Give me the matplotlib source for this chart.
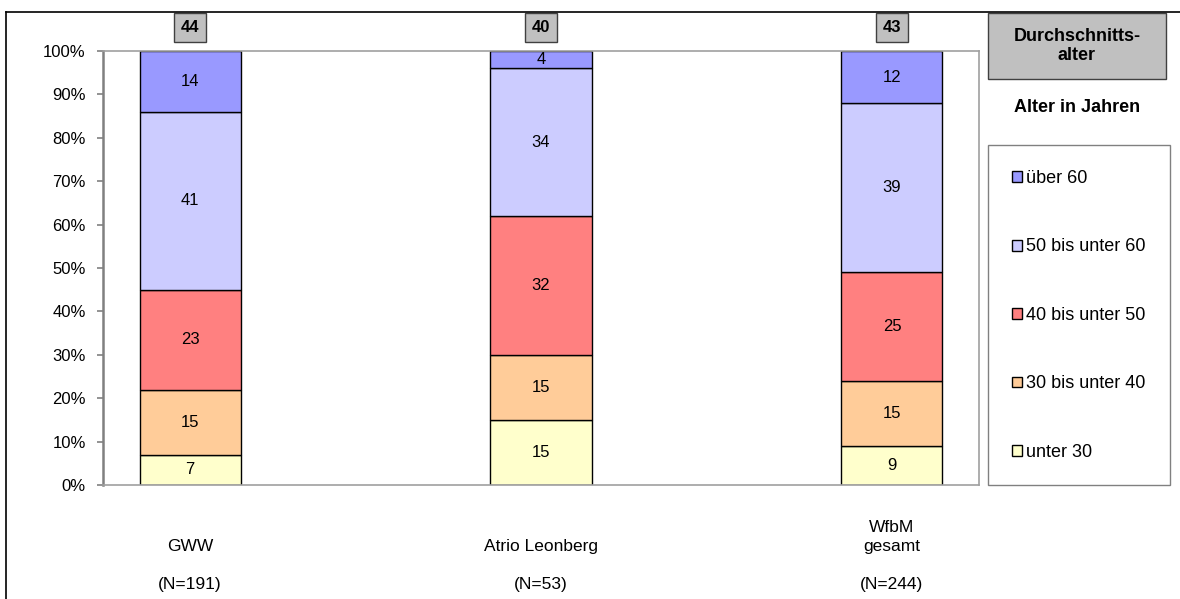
import matplotlib.pyplot as plt
from matplotlib.patches import Rectangle
from matplotlib.lines import Line2D
import matplotlib.transforms as mtransforms

plt.rcParams['font.family'] = ['Liberation Sans', 'DejaVu Sans']

# Daten
standorte = ["GWW", "Atrio Leonberg", "WfbM\ngesamt"]
n_werte = ["(N=191)", "(N=53)", "(N=244)"]
durchschnittsalter = [44, 40, 43]

altersgruppen = ["unter 30", "30 bis unter 40", "40 bis unter 50",
                 "50 bis unter 60", "über 60"]
anteile = {
    "unter 30":        [7, 15, 9],
    "30 bis unter 40": [15, 15, 15],
    "40 bis unter 50": [23, 32, 25],
    "50 bis unter 60": [41, 34, 39],
    "über 60":         [14, 4, 12],
}
farben = ["#FFFFCC", "#FFCC99", "#FF8080", "#CCCCFF", "#9999FF"]

W, H = 1180, 599
fig = plt.figure(figsize=(W / 100, H / 100), dpi=100)
ax = fig.add_axes([103 / W, 1 - 485 / H, (979 - 103) / W, (485 - 51) / H])

x = list(range(len(standorte)))
unten = [0] * len(standorte)
handles = []
for gruppe, farbe in zip(altersgruppen, farben):
    werte = anteile[gruppe]
    bars = ax.bar(x, [v / 100 for v in werte], bottom=[u / 100 for u in unten],
                  width=0.288, color=farbe, edgecolor="black", linewidth=1)
    handles.append(bars)
    for xi, v, u in zip(x, werte, unten):
        ax.text(xi, (u + v / 2) / 100, str(v), ha="center", va="center",
                fontsize=12)
    unten = [u + v for u, v in zip(unten, werte)]

ax.set_xlim(-0.248, 2.248)
ax.set_ylim(0, 1)
ax.set_yticks([i / 10 for i in range(11)])
ax.set_yticklabels([f"{i * 10}%" for i in range(11)], fontsize=12)
ax.tick_params(axis="y", direction="out", length=4.5, width=1.2,
               color="#808080", pad=8)
ax.set_xticks([])
for s in ["top", "right", "bottom"]:
    ax.spines[s].set_color("#A0A0A0")
    ax.spines[s].set_linewidth(1.2)
ax.spines["left"].set_color("#808080")
ax.spines["left"].set_linewidth(1.8)

# Beschriftung unter den Saeulen
trans = mtransforms.blended_transform_factory(ax.transData, fig.transFigure)
for xi, name, n in zip(x, standorte, n_werte):
    ax.text(xi, 1 - 554 / H, name, transform=trans, ha="center", va="bottom",
            fontsize=12.5, linespacing=1.3)
    ax.text(xi, 1 - 585 / H, n, transform=trans, ha="center", va="center",
            fontsize=12.5)

# Durchschnittsalter ueber den Saeulen
for xi, alter in zip(x, durchschnittsalter):
    ax.text(xi, 1 - 27.5 / H, str(alter), transform=trans, ha="center",
            va="center", fontsize=12, fontweight="bold",
            bbox=dict(boxstyle="square,pad=0.42", facecolor="#C0C0C0",
                      edgecolor="#404040", linewidth=1))

# Rahmen und Kopf der Legende
fig.patches.append(Rectangle((988 / W, 1 - 79 / H), 178 / W, 66 / H,
                             transform=fig.transFigure, facecolor="#C0C0C0",
                             edgecolor="#404040", linewidth=1))
fig.text(1077 / W, 1 - 46 / H, "Durchschnitts-\nalter", ha="center",
         va="center", fontsize=13, fontweight="bold", linespacing=1.2)
fig.text(1077 / W, 1 - 108 / H, "Alter in Jahren", ha="center", va="center",
         fontsize=13, fontweight="bold")
fig.patches.append(Rectangle((988 / W, 1 - 485 / H), 182 / W, 340 / H,
                             transform=fig.transFigure, facecolor="white",
                             edgecolor="#808080", linewidth=1))

leg = fig.legend(handles[::-1], altersgruppen[::-1], loc="upper left",
                 bbox_to_anchor=(1012 / W, 1 - 170 / H), frameon=False,
                 fontsize=13, handlelength=0.55, handleheight=0.55,
                 handletextpad=0.2, labelspacing=2.85, borderpad=0,
                 borderaxespad=0)
for h in leg.legend_handles:
    h.set_linewidth(1)

# Aeusserer Rahmen
fig.lines.append(Line2D([6 / W, 1], [1 - 12 / H, 1 - 12 / H],
                        transform=fig.transFigure, color="black", linewidth=1.2))
fig.lines.append(Line2D([6 / W, 6 / W], [0, 1 - 12 / H],
                        transform=fig.transFigure, color="black", linewidth=1.2))

fig.savefig("out.png", dpi=100)
